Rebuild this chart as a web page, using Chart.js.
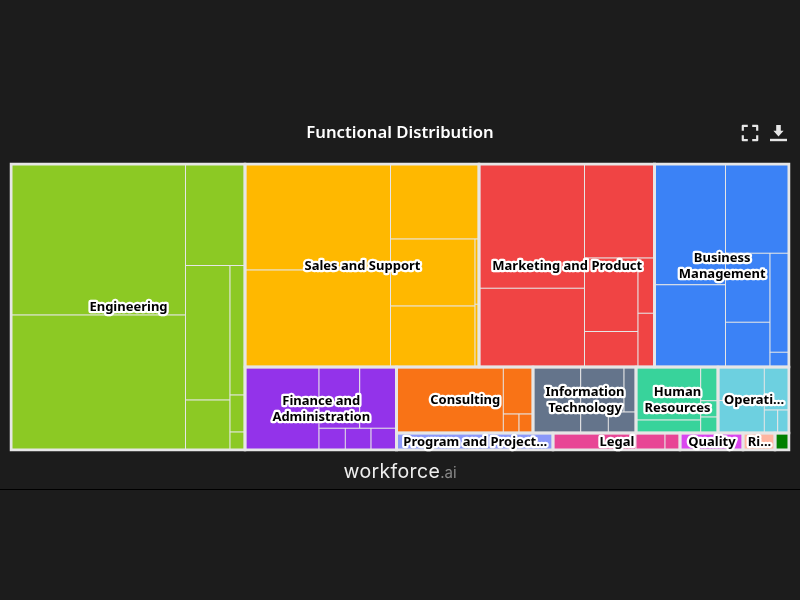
<!DOCTYPE html>
<html>
<head>
<meta charset="utf-8">
<script src="https://cdn.jsdelivr.net/npm/chart.js@4/dist/chart.umd.js"></script>
<style>
html,body{margin:0;padding:0;background:#1c1c1c;width:800px;height:600px;overflow:hidden}
#c{position:absolute;left:0;top:0}
#rule{position:absolute;left:0;top:489px;width:800px;height:1px;background:#000}
#logo{position:absolute;left:0;top:457.5px;width:800px;text-align:center;font:400 19.5px/26px Inter,sans-serif;color:#eee;letter-spacing:.35px}
#logo span{color:#8a8a8a;font-size:15px;letter-spacing:0}
svg{position:absolute}
</style>
</head>
<body>
<canvas id="c" width="800" height="600"></canvas>
<div id="logo">workforce<span>.ai</span></div>
<div id="rule"></div>
<svg style="left:741px;top:124px" width="18" height="18" viewBox="0 0 18 18" fill="none" stroke="#e6e6e6" stroke-width="2.2" stroke-linejoin="round">
<path d="M1.8 6.8V1.8H6.8M11.2 1.8H16.2V6.8M16.2 11.2V16.2H11.2M6.8 16.2H1.8V11.2"/></svg>
<svg style="left:769px;top:124px" width="19" height="18" viewBox="0 0 19 18" fill="#e6e6e6">
<path d="M7.2 1H11.8V6.8H14.6L9.5 12.6L4.4 6.8H7.2Z"/><path d="M1 14.8H18V17.2H1Z"/></svg>
<script>
const chartTitle = 'Functional Distribution';
const groupNames = ['Engineering','Sales and Support','Marketing and Product','Business Management','Finance and Administration','Consulting','Information Technology','Human Resources','Operations','Program and Project Management','Legal','Quality','Risk','Other'];
const groupLabelLines = [['Engineering'],['Sales and Support'],['Marketing and Product'],['Business','Management'],['Finance and','Administration'],['Consulting'],['Information','Technology'],['Human','Resources'],['Operati...'],['Program and Project...'],['Legal'],['Quality'],['Ri...'],[]];
const groupColors = ['#8cc924','#ffb800','#f04444','#3b82f6','#9333ea','#f97316','#64748b','#38d39b','#6dd0e0','#8b98f9','#e84595','#d946ef','#ffb5a0','#008000'];
const engineeringValues = [26350,23558,6039,5985,2225,1942,555,270];
const salesValues = [15423,14114,6638,5662,5155,260,250];
const marketingValues = [13114,8303,6580,3932,1899,912,886];
const businessValues = [8570,5843,5671,3070,1989,1881,279];
const financeValues = [6142,2495,2256,571,558,553];
const consultingValues = [7049,1396,298,266];
const itValues = [3148,1949,540,580,581];
const hrValues = [3429,841,583,282,277];
const operationsValues = [1556,1500,1062,308,260];
const programValues = [2660];
const legalValues = [1411,493,255];
const qualityValues = [1071];
const riskValues = [544];
const otherValues = [238];

const groupValues = [engineeringValues,salesValues,marketingValues,businessValues,financeValues,consultingValues,itValues,hrValues,operationsValues,programValues,legalValues,qualityValues,riskValues,otherValues];
const sum = a => a.reduce((s,v)=>s+v,0);
const groupTotals = groupValues.map(sum);
const cellValues = groupValues.flat();
const cellColors = groupValues.flatMap((vals,i)=>vals.map(()=>groupColors[i]));

// Squarified layout with alternating direction
function squarify(values, box){
  const total = sum(values), out = [];
  let dir = 0, width = box.w, height = box.h, px = box.x, py = box.y;
  let els = [], tot = 0, nW = 0, lW = 0, nH = 0, lH = 0, lR = 0, nR = 0;
  const ar = (a,b)=>Math.max(a/b,b/a);
  function add(el){
    const prev = els[els.length-1];
    tot += el;
    if(dir===0){
      lW = nW; lR = ar(lW, prev/lW);
      nW = tot/height; nR = ar(nW, prev/nW);
    } else {
      lH = nH; lR = ar(prev/lH, lH);
      nH = tot/width; nR = ar(prev/nH, nH);
    }
    els.push(el);
  }
  function flush(last){
    const gW = last?nW:lW, gH = last?nH:lH, end = els.length-1, keep = els[end];
    els.forEach((p,i)=>{
      if(last||i<end){
        if(dir===0){ const h=p/gW; out.push({x:px,y:py,w:gW,h}); py+=h; }
        else { const w=p/gH; out.push({x:px,y:py,w,h:gH}); px+=w; }
      }
    });
    els=[]; tot=0; nW=0; lW=0;
    if(dir===0) width-=gW; else height-=gH;
    py = box.y+(box.h-height); px = box.x+(box.w-width);
    dir = 1-dir;
    if(!last) add(keep);
  }
  values.forEach((v,i)=>{
    add(v/total*box.w*box.h);
    if(nR>lR) flush(false);
    if(i===values.length-1) flush(true);
  });
  return out;
}
function treemapRects(W,H){
  const groups = squarify(groupTotals,{x:0,y:0,w:W,h:H});
  const cells = groups.flatMap((g,i)=>squarify(groupValues[i],g));
  const norm = r=>({x0:r.x/W,x1:(r.x+r.w)/W,y0:r.y/H,y1:(r.y+r.h)/H});
  return {groups:groups.map(norm),cells:cells.map(norm)};
}

class TreemapController extends Chart.DatasetController {
  update(mode){
    const meta = this._cachedMeta;
    this.updateElements(meta.data,0,meta.data.length,mode);
  }
  updateElements(els,start,count,mode){
    const meta = this._cachedMeta, xs = meta.xScale, ys = meta.yScale, ds = this.getDataset();
    const rects = treemapRects(xs.width,ys.height)[ds.level];
    const pad = ds.borderWidth/2;
    for(let i=start;i<start+count;i++){
      const r = rects[i];
      const l = xs.getPixelForValue(r.x0), rt = xs.getPixelForValue(r.x1);
      const t = ys.getPixelForValue(r.y0), b = ys.getPixelForValue(r.y1);
      this.updateElement(els[i],i,{
        x:(l+rt)/2, y:t-pad, base:b+pad, width:rt-l+2*pad, horizontal:false,
        borderSkipped:{}, inflateAmount:0, enableBorderRadius:false,
        options:this.resolveDataElementOptions(i,mode)
      },mode);
    }
  }
}
TreemapController.id = 'treemap';
TreemapController.defaults = {dataElementType:'bar',datasetElementType:false};
Chart.register(TreemapController);

const seamPlugin = {
  id:'seamBase',
  beforeDatasetsDraw(chart){
    const a = chart.chartArea, ctx = chart.ctx;
    ctx.save(); ctx.fillStyle='#e6e6e6';
    ctx.fillRect(a.left,a.top,a.right-a.left,a.bottom-a.top);
    ctx.restore();
  }
};
const labelPlugin = {
  id:'groupLabels',
  afterDatasetsDraw(chart){
    const meta = chart.getDatasetMeta(0), ctx = chart.ctx;
    ctx.save();
    ctx.font = '700 13px "Noto Sans", sans-serif';
    ctx.textAlign = 'center'; ctx.textBaseline = 'middle'; ctx.lineJoin = 'round';
    meta.data.forEach((el,i)=>{
      const lines = groupLabelLines[i], lh = 16;
      const cy = (el.y+el.base)/2+0.5, cx = el.x+0.5;
      lines.forEach((s,k)=>{
        const y = cy+(k-(lines.length-1)/2)*lh;
        ctx.strokeStyle='#fff'; ctx.lineWidth=4.5; ctx.strokeText(s,cx,y);
      });
      lines.forEach((s,k)=>{
        const y = cy+(k-(lines.length-1)/2)*lh;
        ctx.fillStyle='#000'; ctx.fillText(s,cx,y);
      });
    });
    ctx.restore();
  }
};

new Chart(document.getElementById('c'),{
  type:'treemap',
  data:{
    labels:cellValues.map((v,i)=>String(i)),
    datasets:[
      {label:'Functions',level:'groups',order:1,data:groupTotals,backgroundColor:'rgba(0,0,0,0)',borderColor:'#e6e6e6',borderWidth:3,clip:false},
      {label:'Roles',level:'cells',order:2,data:cellValues,backgroundColor:cellColors,borderColor:'#e6e6e6',borderWidth:1,clip:false}
    ]
  },
  options:{
    responsive:false,animation:false,
    layout:{padding:{left:11,right:11,top:0,bottom:150}},
    events:[],
    plugins:{
      legend:{display:false},tooltip:{enabled:false},
      title:{display:true,text:chartTitle,color:'#ffffff',font:{family:'"Noto Sans", sans-serif',size:16.7,weight:'600',lineHeight:1.2},padding:{top:123,bottom:21}}
    },
    scales:{
      x:{type:'linear',min:0,max:1,display:false},
      y:{type:'linear',min:0,max:1,reverse:true,display:false}
    }
  },
  plugins:[seamPlugin,labelPlugin]
});
</script>
</body>
</html>
